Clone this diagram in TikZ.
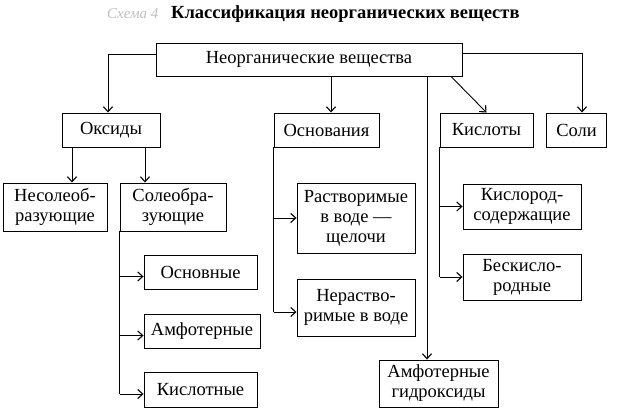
\documentclass[tikz,border=0pt]{standalone}
\usepackage{fontspec}
\setmainfont{Liberation Serif}
\usetikzlibrary{arrows.meta}

\tikzstyle{pixel}=[x=1pt,y=-1pt]
\tikzstyle{box}=[draw,line width=0.9pt,inner sep=0pt,align=center,
	font=\fontsize{18.5}{20}\selectfont]
\tikzstyle{arr}=[line width=0.9pt,-{Straight Barb[length=5pt,width=9pt,line width=1.1pt]}]
\tikzstyle{ln}=[line width=0.9pt]

\begin{document}
\begin{tikzpicture}[pixel]
	\useasboundingbox (0,0) rectangle (619,411);
	\node[anchor=base east,font=\fontsize{15}{18}\selectfont\itshape,text=black!25] (titlenum) at (162,19) {Схема 4};
	\node[anchor=base west,font=\fontsize{18.5}{20}\selectfont\bfseries,inner sep=0pt] (title) at (171,19)
		{Классификация неорганических веществ};
%
	\node[box,minimum width=306pt,minimum height=33pt] (root) at (309,59.5) {Неорганические вещества};
	\node[box,minimum width=98pt,minimum height=34pt] (oxides) at (111,130) {Оксиды};
	\node[box,minimum width=105pt,minimum height=34pt] (bases) at (326.5,130) {Основания};
	\node[box,minimum width=93pt,minimum height=34pt] (acids) at (486.5,130) {Кислоты};
	\node[box,minimum width=60pt,minimum height=34pt] (salts) at (576.5,130) {Соли};
%
	\node[box,minimum width=104pt,minimum height=48pt] (nonsalt) at (55,207) {Несолеоб-\\разующие};
	\node[box,minimum width=106pt,minimum height=48pt] (saltform) at (173,207) {Солеобра-\\зующие};
	\node[box,minimum width=113pt,minimum height=34pt] (basic) at (200.5,272) {Основные};
	\node[box,minimum width=116pt,minimum height=34pt] (amph) at (202,331) {Амфотерные};
	\node[box,minimum width=113pt,minimum height=35pt] (acidic) at (200.5,389.5) {Кислотные};
%
	\node[box,minimum width=118pt,minimum height=70pt] (soluble) at (356,218) {Растворимые\\в воде ---\\щелочи};
	\node[box,minimum width=118pt,minimum height=57pt] (insoluble) at (356,307.5) {Нераство-\\римые в воде};
	\node[box,minimum width=119pt,minimum height=47pt] (amphhyd) at (438.5,383.5) {Амфотерные\\гидроксиды};
	\node[box,minimum width=118pt,minimum height=45pt] (oxyacid) at (522,206.5) {Кислород-\\содержащие};
	\node[box,minimum width=118pt,minimum height=46pt] (anoxy) at (522,277) {Бескисло-\\родные};
%
	\draw[arr] ([yshift=5.5pt]root.west) -| ([xshift=-3pt]oxides.north);
	\draw[arr] ([yshift=6.5pt]root.east) -| ([xshift=5.5pt]salts.north);
	\draw[arr] ([xshift=22pt]root.south) -- ([xshift=4.5pt]bases.north);
	\draw[arr] ([xshift=142pt]root.south) -- (acids.north);
	\draw[arr] ([xshift=-11.5pt]amphhyd.north |- root.south) -- ([xshift=-11.5pt]amphhyd.north);
%
	\draw[arr] ([xshift=-39pt]oxides.south) -- ([xshift=17pt]nonsalt.north);
	\draw[arr] ([xshift=34pt]oxides.south) -- ([xshift=-28pt]saltform.north);
	\draw[ln] (saltform.south west) -- ([yshift=-4.5pt]saltform.south west |- acidic.west);
	\foreach \n in {basic,amph,acidic}
		\draw[arr] ([yshift=-4.5pt]saltform.south west |- \n.west) -- ([yshift=-4.5pt]\n.west);
%
	\draw[ln] (bases.south west) -- ([yshift=-4.5pt]bases.south west |- insoluble.west);
	\draw[arr] (bases.south west |- soluble.west) -- (soluble.west);
	\draw[arr] ([yshift=-4.5pt]bases.south west |- insoluble.west) -- ([yshift=-4.5pt]insoluble.west);
%
	\draw[ln] (acids.south west) -- (acids.south west |- anoxy.west);
	\foreach \n in {oxyacid,anoxy}
		\draw[arr] (acids.south west |- \n.west) -- (\n.west);
\end{tikzpicture}
\end{document}
